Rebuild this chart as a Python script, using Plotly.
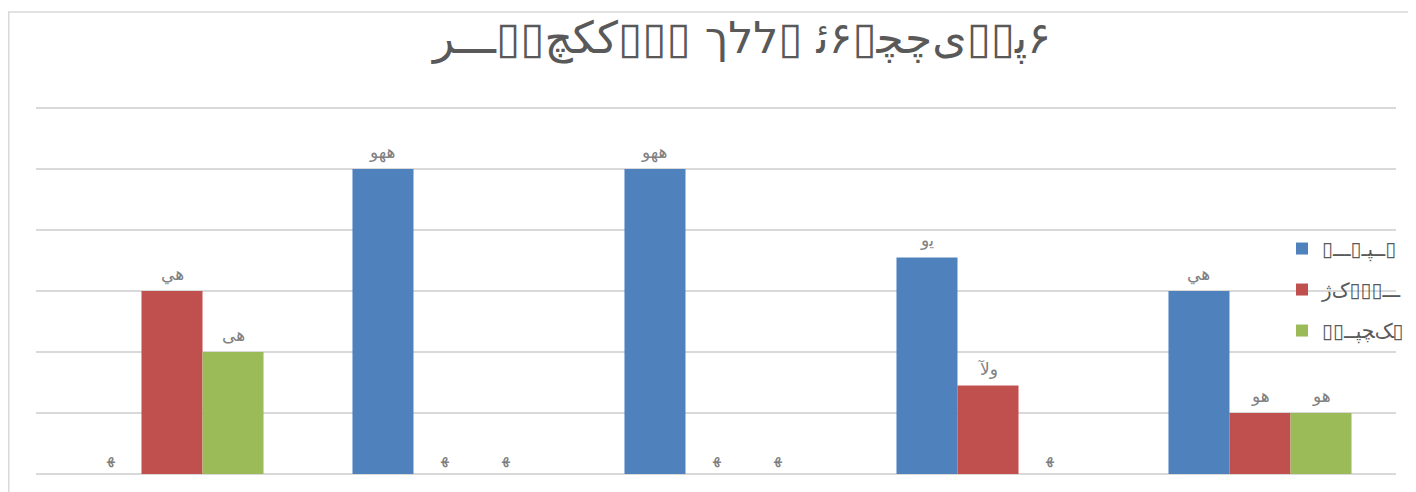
import plotly.graph_objects as go

LRO, PDF = "\u202d", "\u202c"


def vis(v):
    """Force the glyphs of v to be drawn left to right in the given order."""
    return LRO + v + PDF


# ---- data ----
categories = ["C1", "C2", "C3", "C4", "C5"]
series_names = [
    vis("\u25af\u0640\u0640\u0640\u25af\u0640\ufb59\u0640\u0640\u25af"),
    vis("\ufb8a\ufb8e\u25af\u25af\u25af\u0640\u0640\u0640"),
    vis("\u25af\u25af\u0640\u0640\ufb59\ufb7d\ufb8f\u25af"),
]
series_blue = [0, 100, 100, 71, 60]
series_red = [60, 0, 0, 29, 20]
series_green = [40, 0, 0, 0, 20]
series_values = [series_blue, series_red, series_green]
series_colors = ["#4F81BD", "#C0504D", "#9BBB59"]

# how each value's label was rendered in the chart
value_labels = {
    0: vis("\ufeec"),
    20: vis("\ufeee\ufeeb"),
    29: vis("\ufef5\ufeed"),
    40: vis("\ufef0\ufeeb"),
    60: vis("\ufef2\ufeeb"),
    71: vis("\ufeed\ufef3"),
    100: vis("\ufeee\ufeec\ufeeb"),
}

title_text = vis(
    "\ufeae\u0640\u0640\u0640\u25af\u25af\ufb7b\ufedc\ufedb\u25af\u25af\u25af "
    "\u05da\u05dc\u05dc\u25af \ufe8b\u06f6\u25af\ufb7d\ufb7c\ufeef\u25af\u25af\ufb58\u06f6"
)

# page has an 8px body margin; figure coordinates below are page - 8
OFF = 8
YMAX = 121
W, H = 1416 - OFF, 492 - OFF
unit = 61.0 / 20                      # px per value unit
base_page = 474
top_page = base_page - YMAX * unit
L, R, B = 36 - OFF, 20, 492 - base_page
T = top_page - OFF
pw, ph = W - L - R, H - T - B
BARGAP = 0.327
ncat = len(categories)
bar_px = pw / ncat * (1 - BARGAP) / len(series_values)


def px_x(p):
    return (p - OFF - L) / pw


def px_y(p):
    return (H - B - (p - OFF)) / ph


fig = go.Figure()
annotations = []
for s, (name, vals, col) in enumerate(zip(series_names, series_values, series_colors)):
    fig.add_trace(go.Bar(
        x=categories, y=vals, name=name,
        marker=dict(color=col, line=dict(width=0)),
        legendgroup=name,
    ))
    for c, v in zip(categories, vals):
        annotations.append(dict(
            x=c, y=v, xref="x", yref="y", text=value_labels[v], showarrow=False,
            xshift=(s - 1) * bar_px, yshift=17, yanchor="middle", xanchor="center",
            font=dict(color="#808080", size=17, family="DejaVu Sans"),
        ))

fig.add_shape(type="rect", xref="paper", yref="paper",
              x0=px_x(8.75), x1=px_x(1600), y0=px_y(12), y1=px_y(700),
              line=dict(color="#d9d9d9", width=1.5), fillcolor="rgba(0,0,0,0)",
              layer="below")

fig.update_layout(
    width=W, height=H,
    margin=dict(l=L, r=R, t=T, b=B, autoexpand=False),
    paper_bgcolor="white", plot_bgcolor="white",
    font=dict(family="DejaVu Sans", color="#595959"),
    title=dict(text=title_text, x=(742 - OFF) / W, xref="container", xanchor="center",
               y=1 - (38 - OFF) / H, yref="container", yanchor="middle",
               font=dict(size=44, color="#595959", family="DejaVu Sans")),
    barmode="group", bargap=BARGAP, bargroupgap=0,
    xaxis=dict(type="category", categoryorder="array", categoryarray=categories,
               range=[-0.5, ncat - 0.5], autorange=False,
               showticklabels=False, showgrid=False, showline=False, ticks=""),
    yaxis=dict(range=[0, YMAX], autorange=False, dtick=20, showticklabels=False,
               showgrid=True, gridcolor="#d9d9d9", gridwidth=2, zeroline=True,
               zerolinecolor="#d9d9d9", zerolinewidth=2, ticks=""),
    legend=dict(x=px_x(1282), y=px_y(229), xanchor="left", yanchor="top",
                font=dict(size=20, color="#595959", family="DejaVu Sans"),
                tracegroupgap=12, bgcolor="rgba(0,0,0,0)"),
    annotations=annotations,
    showlegend=True,
)

fig.write_html("out.html")
